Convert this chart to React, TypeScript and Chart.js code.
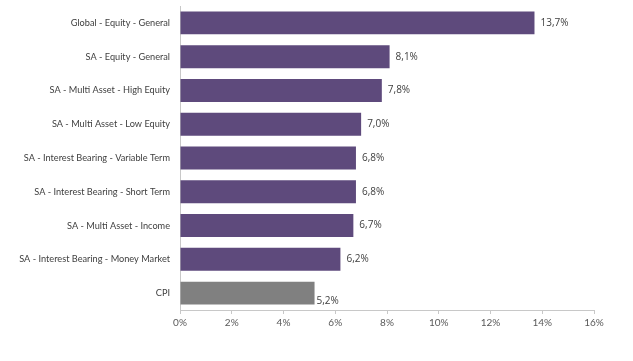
import React, { useEffect, useRef } from "react";
import { Chart, registerables } from "chart.js";

Chart.register(...registerables);

const categories = [
  "Global - Equity - General",
  "SA - Equity - General",
  "SA - Multi Asset - High Equity",
  "SA - Multi Asset - Low Equity",
  "SA - Interest Bearing - Variable Term",
  "SA - Interest Bearing - Short Term",
  "SA - Multi Asset - Income",
  "SA - Interest Bearing - Money Market",
  "CPI",
];
const values = [13.7, 8.1, 7.8, 7.0, 6.8, 6.8, 6.7, 6.2, 5.2];
const barColors = [
  "#5e4a7c", "#5e4a7c", "#5e4a7c", "#5e4a7c", "#5e4a7c",
  "#5e4a7c", "#5e4a7c", "#5e4a7c", "#808080",
];
const xMin = 0;
const xMax = 16;
const xStep = 2;

const fmt = (v: number, d: number) => v.toFixed(d).replace(".", ",") + "%";

const labelPlugin = {
  id: "barLabels",
  afterDatasetsDraw(chart: any) {
    const ctx = chart.ctx;
    const meta = chart.getDatasetMeta(0);
    ctx.save();
    ctx.font = "10px 'Open Sans', sans-serif";
    ctx.fillStyle = "#404040";
    ctx.textBaseline = "middle";
    ctx.textAlign = "left";
    meta.data.forEach((bar: any, i: number) => {
      const v = values[i];
      let y = bar.y;
      let x = bar.x + 6;
      if (i === values.length - 1) {
        y = bar.y + bar.height / 2 - 3;
        x = bar.x + 2;
      }
      ctx.fillText(fmt(v, 1), x, y);
    });
    ctx.restore();
  },
};

export default function App() {
  const ref = useRef<HTMLCanvasElement>(null);
  useEffect(() => {
    if (!ref.current) return;
    const chart = new Chart(ref.current, {
      type: "bar",
      data: {
        labels: categories,
        datasets: [
          {
            data: values,
            backgroundColor: barColors,
            borderWidth: 0,
            barPercentage: 0.68,
            categoryPercentage: 1,
          },
        ],
      },
      options: {
        indexAxis: "y",
        animation: false,
        responsive: false,
        maintainAspectRatio: false,
        layout: { padding: { top: 6, right: 39, left: 0, bottom: 0 } },
        plugins: { legend: { display: false }, tooltip: { enabled: false } },
        scales: {
          x: {
            min: xMin,
            max: xMax,
            afterFit(scale: any) {
              scale.height = 51;
            },
            ticks: {
              stepSize: xStep,
              callback: (v: any) => fmt(Number(v), 0),
              font: { family: "Lato, sans-serif", size: 10 },
              color: "#595959",
              padding: 3,
              maxRotation: 0,
            },
            grid: {
              drawOnChartArea: false,
              drawTicks: true,
              tickLength: 4,
              color: "#c8c8c8",
            },
            border: { display: true, color: "#c8c8c8", width: 1 },
          },
          y: {
            afterFit(scale: any) {
              scale.width = 180;
            },
            ticks: {
              font: { family: "Lato, sans-serif", size: 9.2 },
              color: "#404040",
              padding: 0,
            },
            grid: {
              display: true,
              drawOnChartArea: false,
              drawTicks: true,
              tickLength: 10,
              color: "rgba(0,0,0,0)",
            },
            border: { display: true, color: "#c8c8c8", width: 1 },
          },
        },
      },
      plugins: [labelPlugin],
    });
    return () => chart.destroy();
  }, []);
  return (
    <div style={{ position: "fixed", left: 0, top: 0, width: 633, height: 361, background: "#fff" }}>
      <canvas ref={ref} width={633} height={361} style={{ display: "block" }} />
    </div>
  );
}
